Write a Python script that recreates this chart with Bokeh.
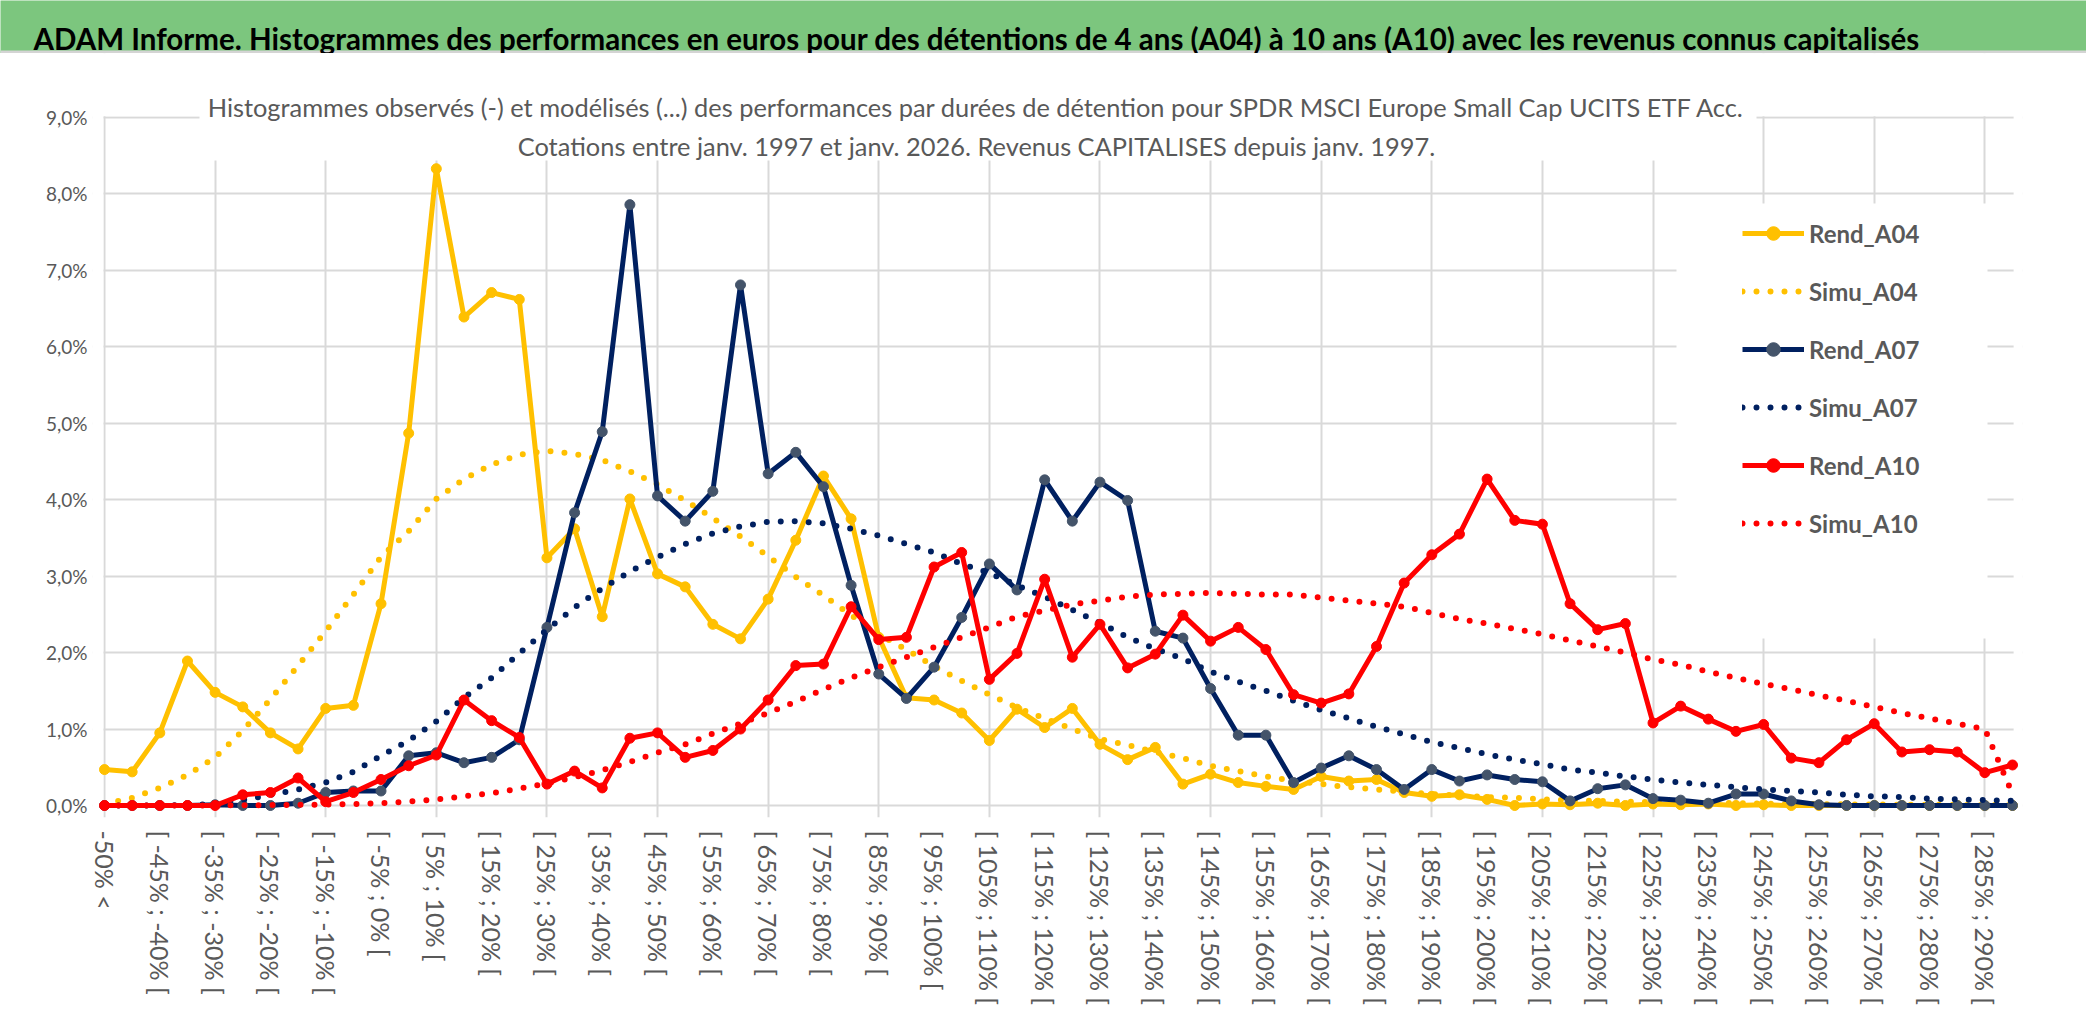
from bokeh.plotting import figure
from bokeh.models import Range1d, FixedTicker, Label, BoxAnnotation, Legend, LegendItem
from bokeh.embed import file_html
from bokeh.resources import INLINE

# ---------------- data ----------------
categories = ["-50% <"] + ["[ %d%% ; %d%% [" % (-50 + 5 * (k - 1), -45 + 5 * (k - 1)) for k in range(1, 70)]
x_idx = list(range(70))

rend_a04 = [0.47, 0.44, 0.95, 1.89, 1.48, 1.29, 0.95, 0.74, 1.27, 1.31,
            2.64, 4.87, 8.33, 6.39, 6.71, 6.62, 3.24, 3.62, 2.47, 4.01,
            3.03, 2.86, 2.37, 2.18, 2.70, 3.47, 4.31, 3.75, 2.20, 1.41,
            1.38, 1.21, 0.85, 1.26, 1.02, 1.27, 0.80, 0.60, 0.76, 0.28,
            0.41, 0.30, 0.25, 0.21, 0.38, 0.32, 0.34, 0.17, 0.12, 0.14,
            0.08, 0.00, 0.02, 0.01, 0.03, 0.00, 0.02, 0.01, 0.02, 0.00,
            0.01, 0.00, 0.00, 0.00, 0.00, 0.00, 0.00, 0.00, 0.00, 0.00]
simu_a04 = [0.02, 0.10, 0.23, 0.40, 0.63, 0.98, 1.39, 1.83, 2.28, 2.76,
            3.25, 3.59, 4.01, 4.27, 4.46, 4.59, 4.64, 4.60, 4.52, 4.37,
            4.20, 3.99, 3.76, 3.52, 3.26, 2.99, 2.75, 2.49, 2.24, 2.04,
            1.82, 1.63, 1.45, 1.28, 1.14, 1.00, 0.87, 0.79, 0.70, 0.62,
            0.52, 0.45, 0.38, 0.32, 0.28, 0.24, 0.21, 0.18, 0.15, 0.13,
            0.11, 0.10, 0.08, 0.07, 0.06, 0.05, 0.045, 0.04, 0.035, 0.03,
            0.025, 0.02, 0.018, 0.015, 0.013, 0.011, 0.010, 0.008, 0.007, 0.006]
rend_a07 = [0.00, 0.00, 0.00, 0.00, 0.01, 0.00, 0.00, 0.03, 0.17, 0.19,
            0.19, 0.65, 0.69, 0.56, 0.63, 0.86, 2.33, 3.83, 4.89, 7.86,
            4.05, 3.72, 4.11, 6.81, 4.34, 4.62, 4.17, 2.88, 1.72, 1.40,
            1.81, 2.46, 3.16, 2.82, 4.26, 3.72, 4.23, 3.99, 2.28, 2.19,
            1.53, 0.92, 0.92, 0.30, 0.49, 0.65, 0.47, 0.21, 0.47, 0.32,
            0.40, 0.34, 0.31, 0.06, 0.22, 0.27, 0.09, 0.07, 0.03, 0.15,
            0.15, 0.06, 0.01, 0.00, 0.00, 0.00, 0.00, 0.00, 0.00, 0.00]
simu_a07 = [0.00, 0.00, 0.00, 0.005, 0.02, 0.07, 0.14, 0.21, 0.30, 0.44,
            0.65, 0.85, 1.10, 1.41, 1.67, 1.99, 2.30, 2.59, 2.84, 3.06,
            3.25, 3.42, 3.56, 3.65, 3.71, 3.72, 3.69, 3.62, 3.53, 3.42,
            3.31, 3.16, 3.04, 2.88, 2.73, 2.56, 2.39, 2.20, 2.05, 1.92,
            1.75, 1.62, 1.50, 1.37, 1.25, 1.14, 1.03, 0.93, 0.83, 0.75,
            0.67, 0.60, 0.54, 0.47, 0.43, 0.38, 0.34, 0.30, 0.27, 0.24,
            0.21, 0.19, 0.17, 0.14, 0.12, 0.11, 0.09, 0.08, 0.07, 0.06]
rend_a10 = [0.00, 0.00, 0.00, 0.00, 0.00, 0.14, 0.17, 0.36, 0.05, 0.17,
            0.34, 0.52, 0.66, 1.38, 1.11, 0.89, 0.28, 0.45, 0.23, 0.88,
            0.95, 0.63, 0.72, 1.00, 1.38, 1.83, 1.85, 2.60, 2.17, 2.20,
            3.12, 3.31, 1.65, 1.99, 2.96, 1.94, 2.37, 1.80, 1.98, 2.49,
            2.15, 2.33, 2.04, 1.45, 1.34, 1.46, 2.08, 2.91, 3.28, 3.55,
            4.27, 3.73, 3.68, 2.64, 2.30, 2.38, 1.08, 1.30, 1.13, 0.97,
            1.06, 0.62, 0.56, 0.86, 1.07, 0.70, 0.73, 0.70, 0.43, 0.53]
simu_a10 = [0.00, 0.00, 0.00, 0.00, 0.00, 0.003, 0.005, 0.008, 0.012, 0.02,
            0.03, 0.05, 0.08, 0.12, 0.16, 0.22, 0.29, 0.37, 0.46, 0.57,
            0.69, 0.80, 0.94, 1.07, 1.21, 1.36, 1.52, 1.67, 1.81, 1.94,
            2.07, 2.20, 2.33, 2.47, 2.55, 2.63, 2.68, 2.73, 2.76, 2.77,
            2.78, 2.77, 2.76, 2.76, 2.72, 2.68, 2.64, 2.60, 2.52, 2.44,
            2.38, 2.31, 2.24, 2.16, 2.08, 2.00, 1.91, 1.84, 1.75, 1.67,
            1.59, 1.52, 1.44, 1.37, 1.29, 1.21, 1.14, 1.07, 1.00, 0.15]

y_ticks = list(range(10))
y_labels = ["%d,0%%" % v for v in y_ticks]

banner_text = ("ADAM Informe. Histogrammes des performances en euros pour des détentions "
               "de 4 ans (A04) à 10 ans (A10) avec les revenus connus capitalisés")
subtitle_1 = ("Histogrammes observés (-) et modélisés (...) des performances par durées de "
              "détention pour SPDR MSCI Europe Small Cap UCITS ETF Acc.")
subtitle_2 = "Cotations entre janv. 1997 et janv. 2026. Revenus CAPITALISES depuis janv. 1997."

# ---------------- style ----------------
FONT = "Lato"
GREEN = "#7CC67E"
GRAY_TXT = "#595959"
GRID = "#D9D9D9"
YELLOW = "#FFC000"
NAVY = "#002060"
NAVY_MK = "#44546A"
RED = "#FF0000"
W = 2086
BANNER_H = 53

# ---------------- banner (separate root, so it is not frame-aligned) ----------------
b = figure(width=W, height=BANNER_H, x_range=Range1d(0, W), y_range=Range1d(0, BANNER_H),
           output_backend="svg", toolbar_location=None,
           x_axis_location=None, y_axis_location=None,
           min_border=0, min_border_left=0, min_border_right=0, min_border_top=0, min_border_bottom=0,
           background_fill_color=GREEN, border_fill_color=GREEN, outline_line_color=None)
b.grid.visible = False
b.xgrid.grid_line_color = None
b.ygrid.grid_line_color = None
b.quad(left=[0], right=[W], bottom=[0], top=[3], fill_color="#D4D4D4", line_color=None)
b.add_layout(Label(x=33, y=15, text=banner_text, text_font=FONT, text_font_size="29.5px",
                   text_font_style="bold", text_color="black", text_baseline="alphabetic",
                   text_align="left"))

# ---------------- main chart ----------------
# frame (page px): left 92, right 2022, top 53, bottom 817 ; x=0 at 104, x=69 at 2012 ; y=0 at 805, y=9 at 117
PX_X = 1908.0 / 69.0
PX_Y = 688.0 / 9.0
p = figure(frame_width=1930, frame_height=764,
           x_range=Range1d(-12.0 / PX_X, 69 + 10.0 / PX_X),
           y_range=Range1d(-12.0 / PX_Y, (805.0 - 53.0) / PX_Y),
           output_backend="svg", toolbar_location=None,
           min_border_left=92, min_border_right=64, min_border_top=0, min_border_bottom=214,
           background_fill_color="white", border_fill_color="white", outline_line_color=None)

p.xgrid.ticker = FixedTicker(ticks=list(range(0, 70, 4)))
p.ygrid.ticker = FixedTicker(ticks=y_ticks)
p.grid.grid_line_color = GRID
p.grid.grid_line_width = 2

p.xaxis.ticker = FixedTicker(ticks=list(range(0, 70, 2)), minor_ticks=[])
p.xaxis.major_label_overrides = {i: categories[i] for i in range(0, 70, 2)}
p.xaxis.major_label_orientation = "vertical"
p.yaxis.ticker = FixedTicker(ticks=y_ticks, minor_ticks=[])
p.yaxis.major_label_overrides = {v: lab for v, lab in zip(y_ticks, y_labels)}
for ax in (p.xaxis, p.yaxis):
    ax.axis_line_color = None
    ax.major_tick_line_color = None
    ax.minor_tick_line_color = None
    ax.major_tick_out = 0
    ax.major_tick_in = 0
    ax.major_label_text_font = FONT
    ax.major_label_text_color = GRAY_TXT
p.xaxis.major_label_text_font_size = "25px"
p.xaxis.major_label_standoff = 13
p.yaxis.major_label_text_font_size = "19px"
p.yaxis.major_label_standoff = 5


def px_to_x(px):
    return (px - 104.0) / PX_X


def px_to_y(py):
    return (805.0 - py) / PX_Y


# white masks over gridlines (title area, legend area, margins)
for (l, r, btm, t) in [
    (px_to_x(199), px_to_x(1756), px_to_y(160), 10.5),
    (px_to_x(1676), px_to_x(1987), px_to_y(638), px_to_y(203)),
    (-2, -0.04, -1, 10.5),
    (69.04, 71, -1, 10.5),
    (-2, 71, 9.015, 10.5),
]:
    p.add_layout(BoxAnnotation(left=l, right=r, bottom=btm, top=t, fill_color="white",
                               fill_alpha=1.0, line_color=None, level="underlay"))

series = [
    ("Rend_A04", rend_a04, YELLOW, YELLOW, False),
    ("Simu_A04", simu_a04, YELLOW, None, True),
    ("Rend_A07", rend_a07, NAVY, NAVY_MK, False),
    ("Simu_A07", simu_a07, NAVY, None, True),
    ("Rend_A10", rend_a10, RED, RED, False),
    ("Simu_A10", simu_a10, RED, None, True),
]
items = []
for name, vals, col, mk, dotted in series:
    if dotted:
        r = p.line(x_idx, vals, line_color=col, line_width=6, line_dash="0 14", line_cap="round")
        items.append(LegendItem(label=name, renderers=[r]))
    else:
        r = p.line(x_idx, vals, line_color=col, line_width=5, line_join="round")
        s = p.scatter(x_idx, vals, marker="circle", size=10, fill_color=mk, line_color=mk)
        items.append(LegendItem(label=name, renderers=[r, s]))

legend = Legend(items=items, location=(1650, 277), orientation="vertical",
                glyph_width=62, glyph_height=34, label_height=34, spacing=24,
                padding=0, margin=0, label_standoff=5,
                label_text_font=FONT, label_text_font_size="24px", label_text_font_style="bold",
                label_text_color=GRAY_TXT, background_fill_alpha=0.0, border_line_color=None)
p.add_layout(legend)

for txt, yb in ((subtitle_1, 106), (subtitle_2, 145)):
    p.add_layout(Label(x=px_to_x(976), y=px_to_y(yb), text=txt, text_align="center",
                       text_baseline="alphabetic", text_font=FONT, text_font_size="25.4px",
                       text_color=GRAY_TXT))

open("out.html", "w").write(file_html([b, p], INLINE))
